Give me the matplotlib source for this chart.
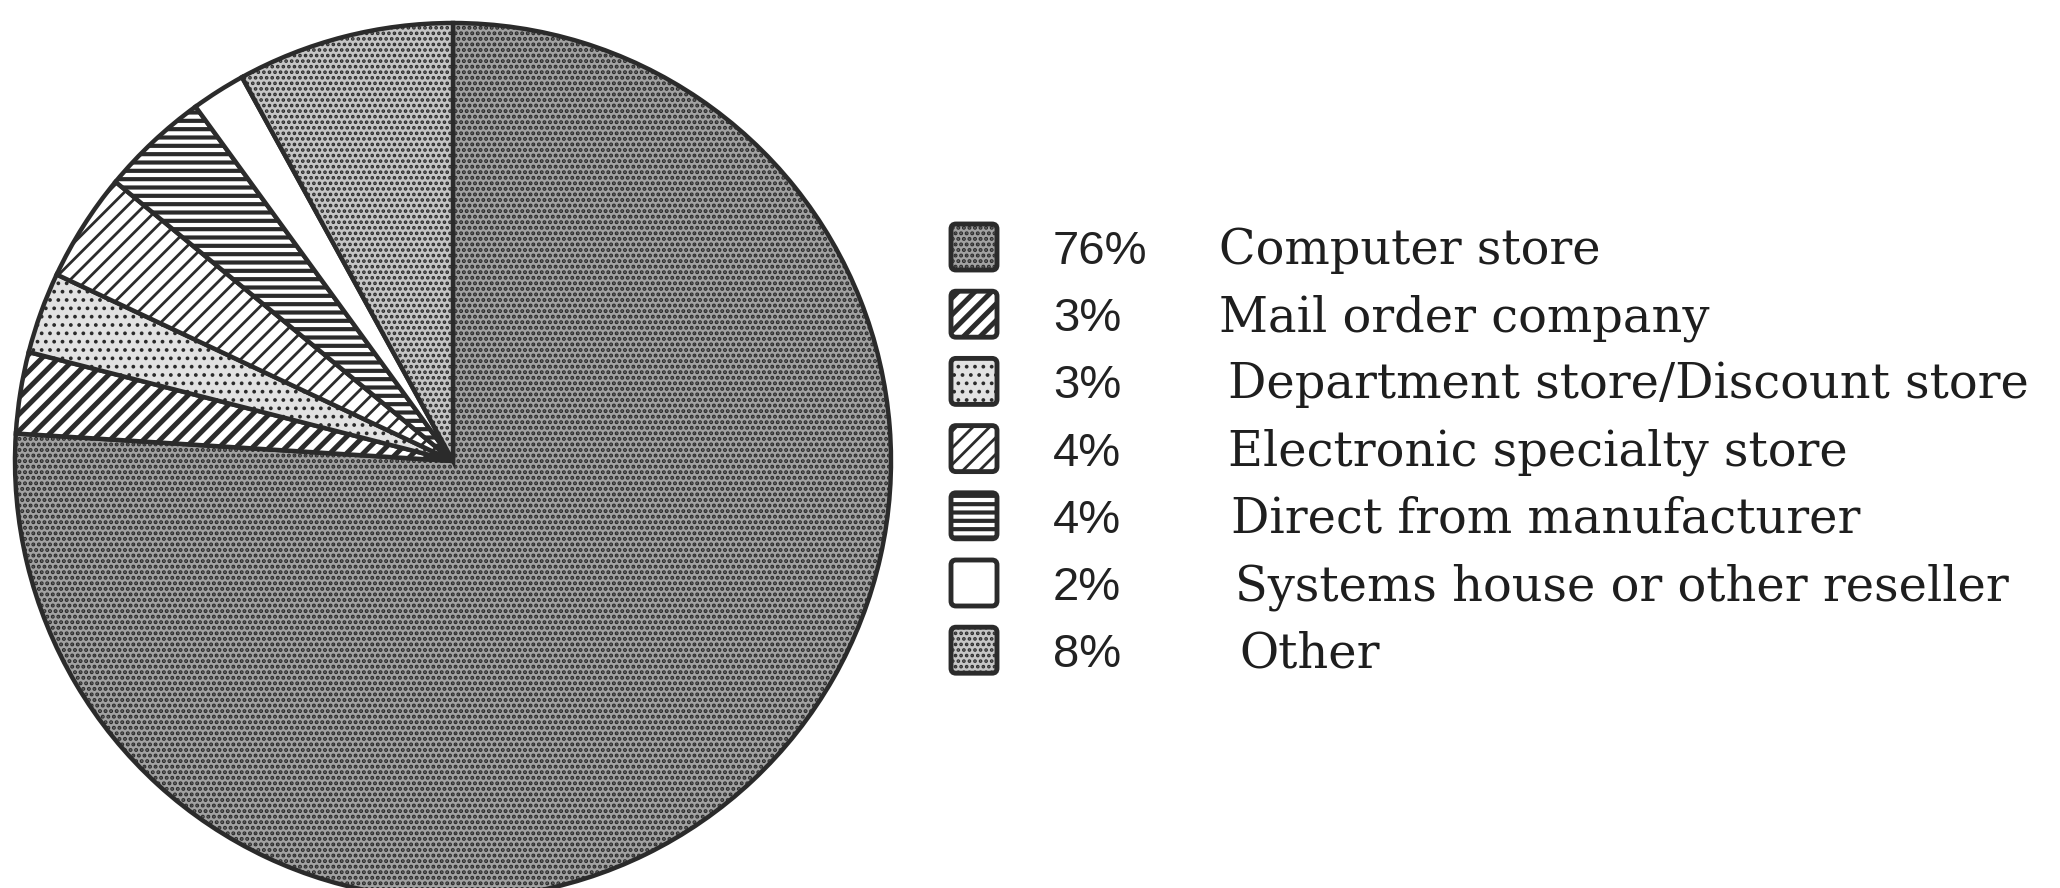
import matplotlib
matplotlib.use("Agg")
import matplotlib.pyplot as plt
from matplotlib.patches import FancyBboxPatch

# Where buyers purchased their computer (percent of respondents)
channels = [
    "Computer store",
    "Mail order company",
    "Department store/Discount store",
    "Electronic specialty store",
    "Direct from manufacturer",
    "Systems house or other reseller",
    "Other",
]
shares = [76, 3, 3, 4, 4, 2, 8]
share_labels = ["76%", "3%", "3%", "4%", "4%", "2%", "8%"]

# fill / hatch per slice, monochrome print style
faces = ["#a2a2a2", "#ffffff", "#e2e2e2", "#ffffff", "#ffffff", "#ffffff", "#c6c6c6"]
hatches = ["...", "//", "..", "//", "--", "", "..."]
hatch_lw = [2.0, 3.6, 1.5, 2.0, 3.0, 1.0, 1.8]
ink = "#2b2b2b"


def style_patch(p, fc, h, hlw):
    p.set_facecolor(fc)
    p.set_hatch(h)
    if hasattr(p, "set_hatch_linewidth"):
        p.set_hatch_linewidth(hlw)


plt.rcParams["hatch.linewidth"] = 2.0

W, H = 2060, 888
fig = plt.figure(figsize=(W / 100, H / 100), dpi=100)
fig.patch.set_facecolor("white")

# pie centred at (453, 461) px from top-left, radius 438 px
cx, cy, r = 453, 461, 438
ax = fig.add_axes([(cx - r) / W, (H - cy - r) / H, 2 * r / W, 2 * r / H])
wedges, _ = ax.pie(shares, startangle=90, counterclock=False, radius=1,
                   wedgeprops=dict(linewidth=3.2, edgecolor=ink, clip_on=False))
for w, fc, h, hlw in zip(wedges, faces, hatches, hatch_lw):
    style_patch(w, fc, h, hlw)
ax.set_xlim(-1, 1)
ax.set_ylim(-1, 1)
ax.set_aspect("equal")
ax.axis("off")

# legend drawn in pixel coordinates
lax = fig.add_axes([0, 0, 1, 1], facecolor="none")
lax.set_xlim(0, W)
lax.set_ylim(H, 0)
lax.axis("off")

row0, step = 247, 67.2
box = 46
label_x = [1219, 1219, 1228, 1228, 1231, 1235, 1239]
for i, (name, pct, fc, h, hlw) in enumerate(zip(channels, share_labels, faces,
                                                hatches, hatch_lw)):
    yc = row0 + i * step
    sq = FancyBboxPatch((974 - box / 2, yc - box / 2), box, box,
                        boxstyle="round,pad=0,rounding_size=5",
                        edgecolor=ink, linewidth=3.5)
    style_patch(sq, fc, h, hlw)
    lax.add_patch(sq)
    lax.text(1053, yc + 17, pct, fontsize=34, family="Liberation Sans",
             color="#222222", va="baseline", ha="left")
    lax.text(label_x[i], yc + 17, name, fontsize=34.5, family="DejaVu Serif",
             color="#1e1e1e", va="baseline", ha="left")

fig.savefig("out.png", dpi=100)
